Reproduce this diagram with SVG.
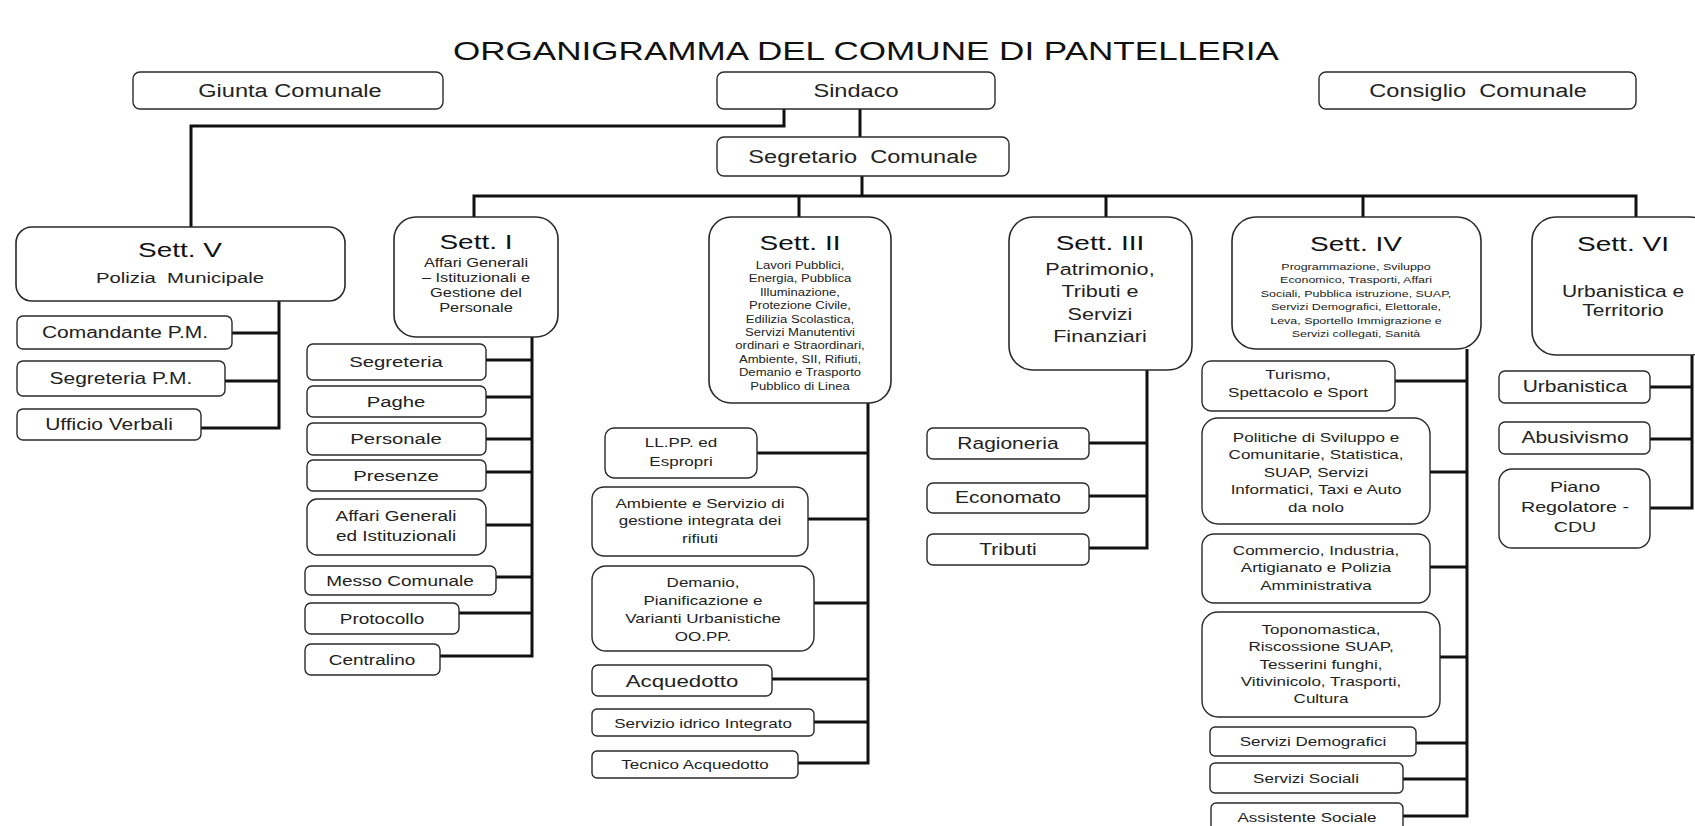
<svg xmlns="http://www.w3.org/2000/svg" width="1695" height="826" viewBox="0 0 1695 826">
<style>
.box{fill:#fff;stroke:#2a2a2a;stroke-width:1.4}
.sett{fill:#fff;stroke:#2a2a2a;stroke-width:1.6}
.conn{fill:none;stroke:#111;stroke-width:3;stroke-linejoin:miter}
text{font-family:"Liberation Sans",Arial,sans-serif;fill:#222;text-anchor:middle}
.h{font-size:20px;fill:#111}
.title{font-size:25px;fill:#111}
</style>
<rect width="1695" height="826" fill="#fff"/>
<text class="title" x="866" y="60" textLength="826" lengthAdjust="spacingAndGlyphs">ORGANIGRAMMA DEL COMUNE DI PANTELLERIA</text>

<g id="connectors">
<path class="conn" d="M784,109 V126 H191 V227"/>
<path class="conn" d="M860,109 V137"/>
<path class="conn" d="M862,176 V196"/>
<path class="conn" d="M474,217 V196 H1636 V217"/>
<path class="conn" d="M799,196 V217 M1106,196 V217 M1363,196 V217"/>
<path class="conn" d="M279,301 V428 H201 M232,333 H279 M225,381 H279"/>
<path class="conn" d="M532,337 V656 H440 M486,360 H532 M486,397 H532 M486,439 H532 M486,472 H532 M486,525 H532 M496,577 H532 M459,613 H532"/>
<path class="conn" d="M868,403 V763 H798 M757,453 H868 M808,519 H868 M814,603 H868 M772,679 H868 M814,722 H868"/>
<path class="conn" d="M1147,370 V548 H1089 M1089,443 H1147 M1089,496 H1147"/>
<path class="conn" d="M1467,349 V816 H1403 M1395,381 H1467 M1430,472 H1467 M1430,567 H1467 M1440,657 H1467 M1416,743 H1467 M1403,779 H1467"/>
<path class="conn" d="M1692,355 V508 H1650 M1650,387 H1692 M1650,439 H1692"/>
</g>

<g id="giunta"><rect class="box" x="133" y="72" width="310" height="37" rx="7"/><text transform="translate(290 97) scale(1.31 1)" font-size="18">Giunta Comunale</text></g>
<g id="sindaco"><rect class="box" x="717" y="72" width="278" height="37" rx="7"/><text transform="translate(856 97) scale(1.31 1)" font-size="18">Sindaco</text></g>
<g id="consiglio"><rect class="box" x="1319" y="72" width="317" height="37" rx="7"/><text xml:space="preserve" transform="translate(1478 97) scale(1.31 1)" font-size="18">Consiglio  Comunale</text></g>
<g id="segretario"><rect class="box" x="717" y="137" width="292" height="39" rx="7"/><text xml:space="preserve" transform="translate(863 163) scale(1.31 1)" font-size="18">Segretario  Comunale</text></g>

<g id="sett5"><rect class="sett" x="16" y="227" width="329" height="74" rx="16"/>
<text class="h" transform="translate(180 257) scale(1.4 1)">Sett. V</text>
<text xml:space="preserve" transform="translate(180 283) scale(1.31 1)" font-size="15.5">Polizia  Municipale</text></g>
<g id="comandante"><rect class="box" x="17" y="316" width="215" height="33" rx="6"/><text transform="translate(125 338) scale(1.31 1)" font-size="16">Comandante P.M.</text></g>
<g id="segreteria-pm"><rect class="box" x="17" y="361" width="208" height="35" rx="6"/><text transform="translate(121 384) scale(1.31 1)" font-size="16">Segreteria P.M.</text></g>
<g id="ufficio-verbali"><rect class="box" x="17" y="409" width="184" height="31" rx="6"/><text transform="translate(109 430) scale(1.31 1)" font-size="16">Ufficio Verbali</text></g>

<g id="sett1"><rect class="sett" x="394" y="217" width="164" height="120" rx="22"/>
<text class="h" transform="translate(476 249) scale(1.4 1)">Sett. I</text>
<text transform="translate(476 267) scale(1.31 1)" font-size="12.5"><tspan x="0">Affari Generali</tspan><tspan x="0" dy="15">– Istituzionali e</tspan><tspan x="0" dy="15">Gestione del</tspan><tspan x="0" dy="15">Personale</tspan></text></g>
<g id="segreteria"><rect class="box" x="307" y="344" width="179" height="36" rx="6"/><text transform="translate(396 367) scale(1.31 1)" font-size="15.5">Segreteria</text></g>
<g id="paghe"><rect class="box" x="307" y="386" width="179" height="31" rx="6"/><text transform="translate(396 407) scale(1.31 1)" font-size="15.5">Paghe</text></g>
<g id="personale"><rect class="box" x="307" y="423" width="179" height="32" rx="6"/><text transform="translate(396 444) scale(1.31 1)" font-size="15.5">Personale</text></g>
<g id="presenze"><rect class="box" x="307" y="460" width="179" height="31" rx="6"/><text transform="translate(396 481) scale(1.31 1)" font-size="15.5">Presenze</text></g>
<g id="affari-generali"><rect class="box" x="307" y="499" width="179" height="56" rx="10"/><text transform="translate(396 521) scale(1.31 1)" font-size="14.5"><tspan x="0">Affari Generali</tspan><tspan x="0" dy="20">ed Istituzionali</tspan></text></g>
<g id="messo"><rect class="box" x="305" y="566" width="191" height="29" rx="6"/><text transform="translate(400 586) scale(1.31 1)" font-size="14.5">Messo Comunale</text></g>
<g id="protocollo"><rect class="box" x="305" y="603" width="154" height="31" rx="6"/><text transform="translate(382 624) scale(1.31 1)" font-size="14.5">Protocollo</text></g>
<g id="centralino"><rect class="box" x="305" y="644" width="135" height="31" rx="6"/><text transform="translate(372 665) scale(1.31 1)" font-size="14.5">Centralino</text></g>

<g id="sett2"><rect class="sett" x="709" y="217" width="182" height="186" rx="22"/>
<text class="h" transform="translate(800 250) scale(1.4 1)">Sett. II</text>
<text transform="translate(800 269) scale(1.31 1)" font-size="10"><tspan x="0">Lavori Pubblici,</tspan><tspan x="0" dy="13.4">Energia, Pubblica</tspan><tspan x="0" dy="13.4">Illuminazione,</tspan><tspan x="0" dy="13.4">Protezione Civile,</tspan><tspan x="0" dy="13.4">Edilizia Scolastica,</tspan><tspan x="0" dy="13.4">Servizi Manutentivi</tspan><tspan x="0" dy="13.4">ordinari e Straordinari,</tspan><tspan x="0" dy="13.4">Ambiente, SII, Rifiuti,</tspan><tspan x="0" dy="13.4">Demanio e Trasporto</tspan><tspan x="0" dy="13.4">Pubblico di Linea</tspan></text></g>
<g id="llpp"><rect class="box" x="605" y="428" width="152" height="50" rx="9"/><text transform="translate(681 447) scale(1.31 1)" font-size="13"><tspan x="0">LL.PP. ed</tspan><tspan x="0" dy="19">Espropri</tspan></text></g>
<g id="ambiente"><rect class="box" x="592" y="487" width="216" height="69" rx="12"/><text transform="translate(700 508) scale(1.31 1)" font-size="13"><tspan x="0">Ambiente e Servizio di</tspan><tspan x="0" dy="17.5">gestione integrata dei</tspan><tspan x="0" dy="17.5">rifiuti</tspan></text></g>
<g id="demanio"><rect class="box" x="592" y="566" width="222" height="85" rx="14"/><text transform="translate(703 587) scale(1.31 1)" font-size="13"><tspan x="0">Demanio,</tspan><tspan x="0" dy="18">Pianificazione e</tspan><tspan x="0" dy="18">Varianti Urbanistiche</tspan><tspan x="0" dy="18">OO.PP.</tspan></text></g>
<g id="acquedotto"><rect class="box" x="592" y="665" width="180" height="31" rx="6"/><text transform="translate(682 687) scale(1.31 1)" font-size="17">Acquedotto</text></g>
<g id="servizio-idrico"><rect class="box" x="592" y="709" width="222" height="27" rx="5"/><text transform="translate(703 728) scale(1.31 1)" font-size="13">Servizio idrico Integrato</text></g>
<g id="tecnico-acquedotto"><rect class="box" x="592" y="751" width="206" height="27" rx="5"/><text transform="translate(695 769) scale(1.31 1)" font-size="13">Tecnico Acquedotto</text></g>

<g id="sett3"><rect class="sett" x="1009" y="217" width="183" height="153" rx="24"/>
<text class="h" transform="translate(1100 250) scale(1.4 1)">Sett. III</text>
<text transform="translate(1100 275) scale(1.31 1)" font-size="16.5"><tspan x="0">Patrimonio,</tspan><tspan x="0" dy="22.3">Tributi e</tspan><tspan x="0" dy="22.3">Servizi</tspan><tspan x="0" dy="22.3">Finanziari</tspan></text></g>
<g id="ragioneria"><rect class="box" x="927" y="428" width="162" height="31" rx="6"/><text transform="translate(1008 449) scale(1.31 1)" font-size="16">Ragioneria</text></g>
<g id="economato"><rect class="box" x="927" y="483" width="162" height="30" rx="6"/><text transform="translate(1008 503) scale(1.31 1)" font-size="16">Economato</text></g>
<g id="tributi"><rect class="box" x="927" y="534" width="162" height="31" rx="6"/><text transform="translate(1008 555) scale(1.31 1)" font-size="16">Tributi</text></g>

<g id="sett4"><rect class="sett" x="1232" y="217" width="249" height="132" rx="24"/>
<text class="h" transform="translate(1356 251) scale(1.4 1)">Sett. IV</text>
<text transform="translate(1356 270) scale(1.31 1)" font-size="9.5"><tspan x="0">Programmazione, Sviluppo</tspan><tspan x="0" dy="13.4">Economico, Trasporti, Affari</tspan><tspan x="0" dy="13.4">Sociali, Pubblica istruzione, SUAP,</tspan><tspan x="0" dy="13.4">Servizi Demografici, Elettorale,</tspan><tspan x="0" dy="13.4">Leva, Sportello Immigrazione e</tspan><tspan x="0" dy="13.4">Servizi collegati, Sanità</tspan></text></g>
<g id="turismo"><rect class="box" x="1202" y="361" width="193" height="50" rx="9"/><text transform="translate(1298 379) scale(1.31 1)" font-size="13"><tspan x="0">Turismo,</tspan><tspan x="0" dy="18">Spettacolo e Sport</tspan></text></g>
<g id="politiche"><rect class="box" x="1202" y="418" width="228" height="106" rx="16"/><text transform="translate(1316 442) scale(1.31 1)" font-size="13"><tspan x="0">Politiche di Sviluppo e</tspan><tspan x="0" dy="17.5">Comunitarie, Statistica,</tspan><tspan x="0" dy="17.5">SUAP, Servizi</tspan><tspan x="0" dy="17.5">Informatici, Taxi e Auto</tspan><tspan x="0" dy="17.5">da nolo</tspan></text></g>
<g id="commercio"><rect class="box" x="1202" y="534" width="228" height="69" rx="12"/><text transform="translate(1316 555) scale(1.31 1)" font-size="13"><tspan x="0">Commercio, Industria,</tspan><tspan x="0" dy="17.5">Artigianato e Polizia</tspan><tspan x="0" dy="17.5">Amministrativa</tspan></text></g>
<g id="toponomastica"><rect class="box" x="1202" y="612" width="238" height="105" rx="16"/><text transform="translate(1321 634) scale(1.31 1)" font-size="13"><tspan x="0">Toponomastica,</tspan><tspan x="0" dy="17.3">Riscossione SUAP,</tspan><tspan x="0" dy="17.3">Tesserini funghi,</tspan><tspan x="0" dy="17.3">Vitivinicolo, Trasporti,</tspan><tspan x="0" dy="17.3">Cultura</tspan></text></g>
<g id="servizi-demografici"><rect class="box" x="1210" y="727" width="206" height="29" rx="5"/><text transform="translate(1313 746) scale(1.31 1)" font-size="13">Servizi Demografici</text></g>
<g id="servizi-sociali"><rect class="box" x="1210" y="763" width="193" height="30" rx="5"/><text transform="translate(1306 783) scale(1.31 1)" font-size="13">Servizi Sociali</text></g>
<g id="assistente-sociale"><rect class="box" x="1211" y="803" width="192" height="36" rx="5"/><text transform="translate(1307 822) scale(1.31 1)" font-size="13">Assistente Sociale</text></g>

<g id="sett6"><rect class="sett" x="1532" y="217" width="182" height="138" rx="24"/>
<text class="h" transform="translate(1623 251) scale(1.4 1)">Sett. VI</text>
<text transform="translate(1623 297) scale(1.31 1)" font-size="16"><tspan x="0">Urbanistica e</tspan><tspan x="0" dy="19.5">Territorio</tspan></text></g>
<g id="urbanistica"><rect class="box" x="1499" y="371" width="151" height="32" rx="6"/><text transform="translate(1575 392) scale(1.31 1)" font-size="16">Urbanistica</text></g>
<g id="abusivismo"><rect class="box" x="1499" y="422" width="151" height="32" rx="6"/><text transform="translate(1575 443) scale(1.31 1)" font-size="16">Abusivismo</text></g>
<g id="piano-regolatore"><rect class="box" x="1499" y="469" width="151" height="79" rx="13"/><text transform="translate(1575 492) scale(1.31 1)" font-size="15"><tspan x="0">Piano</tspan><tspan x="0" dy="20">Regolatore -</tspan><tspan x="0" dy="20">CDU</tspan></text></g>
</svg>
